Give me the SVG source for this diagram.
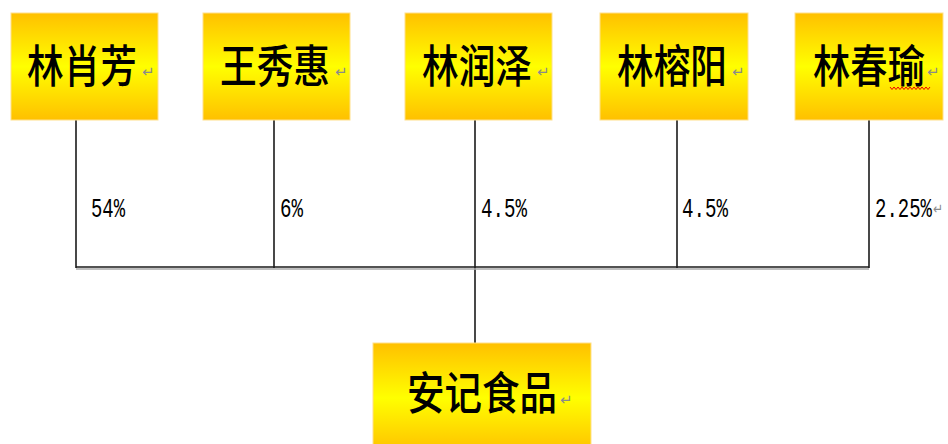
<svg xmlns="http://www.w3.org/2000/svg" width="948" height="444" viewBox="0 0 948 444">
<defs>
<linearGradient id="gold" x1="0" y1="0" x2="0" y2="1">
<stop offset="0" stop-color="#FFC000"/>
<stop offset="0.5" stop-color="#FFFF00"/>
<stop offset="1" stop-color="#FFC000"/>
</linearGradient>
</defs>
<style>
.box{fill:url(#gold);stroke:#FFE08A;stroke-width:1}
.name{font-family:"Noto Sans CJK SC","Noto Sans CJK JP",sans-serif;font-size:45px;font-weight:500;fill:#000}
.pct{font-family:"Liberation Mono","DejaVu Sans Mono",monospace;font-size:27px;fill:#000}
.ret{font-family:"DejaVu Sans",sans-serif;font-size:15px;fill:#8a8a8a}
.line{stroke:#1a1a1a;stroke-width:1.6;fill:none}
</style>
<rect width="948" height="444" fill="#fff"/>
<g id="connectors">
<line class="line" x1="76" y1="120" x2="76" y2="268"/>
<line class="line" x1="274" y1="120" x2="274" y2="268"/>
<line class="line" x1="475" y1="120" x2="475" y2="343"/>
<line class="line" x1="677" y1="120" x2="677" y2="268"/>
<line class="line" x1="869" y1="120" x2="869" y2="268"/>
<line x1="76" y1="269" x2="869" y2="269" stroke="#aaa" stroke-width="1.5"/>
<line class="line" x1="76" y1="267" x2="869" y2="267"/>
<text class="pct" x="91" y="217" textLength="34" lengthAdjust="spacingAndGlyphs">54%</text>
<text class="pct" x="280" y="217" textLength="23" lengthAdjust="spacingAndGlyphs">6%</text>
<text class="pct" x="481" y="217" textLength="46" lengthAdjust="spacingAndGlyphs">4.5%</text>
<text class="pct" x="682" y="217" textLength="46" lengthAdjust="spacingAndGlyphs">4.5%</text>
<text class="pct" x="875" y="217" textLength="57" lengthAdjust="spacingAndGlyphs">2.25%</text>
<text class="ret" x="933" y="214" textLength="10" lengthAdjust="spacingAndGlyphs">↵</text>
</g>
<g id="node-1">
<rect class="box" x="11" y="13" width="147" height="107"/>
<text class="name" x="27" y="83" textLength="110" lengthAdjust="spacingAndGlyphs">林肖芳</text>
<text class="ret" x="142" y="77">↵</text>
</g>
<g id="node-2">
<rect class="box" x="203" y="13" width="147" height="107"/>
<text class="name" x="220" y="83" textLength="110" lengthAdjust="spacingAndGlyphs">王秀惠</text>
<text class="ret" x="335" y="77">↵</text>
</g>
<g id="node-3">
<rect class="box" x="405" y="13" width="147" height="107"/>
<text class="name" x="422" y="83" textLength="110" lengthAdjust="spacingAndGlyphs">林润泽</text>
<text class="ret" x="537" y="77">↵</text>
</g>
<g id="node-4">
<rect class="box" x="600" y="13" width="148" height="107"/>
<text class="name" x="617" y="83" textLength="110" lengthAdjust="spacingAndGlyphs">林榕阳</text>
<text class="ret" x="732" y="77">↵</text>
</g>
<g id="node-5">
<rect class="box" x="795" y="13" width="148" height="107"/>
<text class="name" x="813" y="83" textLength="112" lengthAdjust="spacingAndGlyphs">林春瑜</text>
<text class="ret" x="927" y="77">↵</text>
<path d="M890 87 l2 2.5 l2 -2.5 l2 2.5 l2 -2.5 l2 2.5 l2 -2.5 l2 2.5 l2 -2.5 l2 2.5 l2 -2.5 l2 2.5 l2 -2.5 l2 2.5 l2 -2.5 l2 2.5 l2 -2.5 l2 2.5 l2 -2.5 l2 2.5 l2 -2.5" fill="none" stroke="#e00" stroke-width="1"/>
</g>
<g id="node-6">
<rect class="box" x="373" y="343" width="218" height="110"/>
<text class="name" x="407" y="410" textLength="150" lengthAdjust="spacingAndGlyphs">安记食品</text>
<text class="ret" x="560" y="405">↵</text>
</g>
</svg>
